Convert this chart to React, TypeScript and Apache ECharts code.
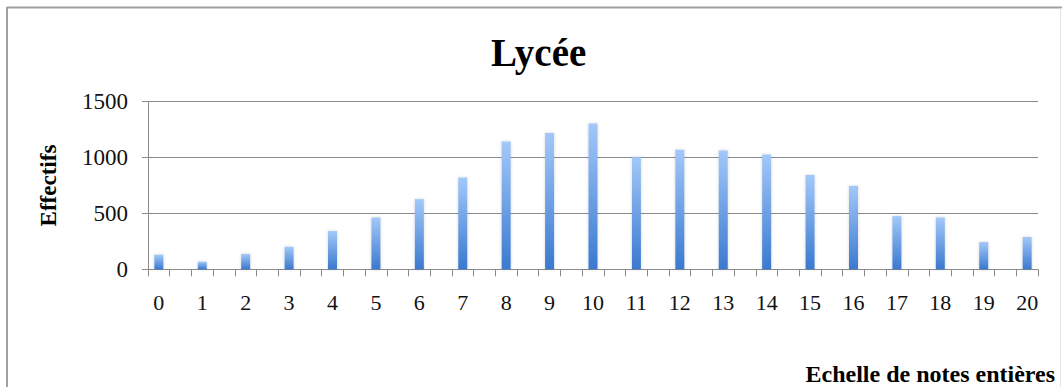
import React, { useEffect, useRef } from "react";
import * as echarts from "echarts";

// Integer grades (0 to 20) and the number of students for each grade
const notes: string[] = ["0", "1", "2", "3", "4", "5", "6", "7", "8", "9", "10", "11", "12", "13", "14", "15", "16", "17", "18", "19", "20"];
const effectifs: number[] = [131, 68, 137, 202, 342, 464, 628, 821, 1143, 1220, 1306, 1003, 1071, 1063, 1027, 845, 747, 476, 464, 244, 289];

const yTicks = { min: 0, max: 1500, interval: 500 };

const titleText = "Lycée";
const yName = "Effectifs";
const xName = "Echelle de notes entières";

const FONT = "'Liberation Serif', 'Times New Roman', serif";

export default function App() {
  const ref = useRef<HTMLDivElement>(null);

  useEffect(() => {
    if (!ref.current) return;
    const chart = echarts.init(ref.current, undefined, { renderer: "svg" });

    // The axis runs on half-grade steps; only whole grades carry a bar and a label
    const categories: string[] = [];
    const values: (number | null)[] = [];
    notes.forEach((n, i) => {
      categories.push(n);
      values.push(effectifs[i]);
      if (i < notes.length - 1) {
        categories.push(n + ",5");
        values.push(null);
      }
    });

    chart.setOption({
      animation: false,
      backgroundColor: "#ffffff",
      title: {
        text: titleText,
        left: 486,
        top: 28,
        textStyle: { fontFamily: FONT, fontSize: 39, fontWeight: "bold", color: "#000" },
      },
      grid: { left: 148, right: 24, top: 101.7, bottom: 117.7, containLabel: false },
      xAxis: {
        type: "category",
        data: categories,
        boundaryGap: true,
        axisLine: { show: true, lineStyle: { color: "#8a8a8a", width: 1 } },
        axisTick: { show: true, interval: 0, length: 7, lineStyle: { color: "#8a8a8a" } },
        axisLabel: {
          interval: 1,
          margin: 22,
          fontFamily: FONT,
          fontSize: 22,
          color: "#111",
        },
        splitLine: { show: false },
      },
      yAxis: {
        type: "value",
        min: yTicks.min,
        max: yTicks.max,
        interval: yTicks.interval,
        name: yName,
        nameLocation: "middle",
        nameGap: 88,
        nameRotate: 90,
        nameTextStyle: { fontFamily: FONT, fontSize: 23, fontWeight: "bold", color: "#000" },
        axisLine: { show: true, lineStyle: { color: "#8a8a8a", width: 1 } },
        axisTick: { show: true, length: 6, lineStyle: { color: "#8a8a8a" } },
        axisLabel: {
          margin: 20,
          fontFamily: FONT,
          fontSize: 23,
          color: "#111",
          formatter: (v: number) => String(v),
        },
        splitLine: { show: true, lineStyle: { color: "#8a8a8a", width: 1 } },
      },
      series: [
        {
          type: "bar",
          data: values,
          barWidth: 9,
          itemStyle: {
            color: new echarts.graphic.LinearGradient(0, 0, 0, 1, [
              { offset: 0, color: "#a3c8f9" },
              { offset: 1, color: "#3a79cf" },
            ]),
            shadowColor: "rgba(0,0,0,0.18)",
            shadowBlur: 3,
          },
        },
      ],
      graphic: [
        {
          type: "line",
          shape: { x1: 7, y1: 7.5, x2: 1062, y2: 7.5 },
          style: { stroke: "#a0a0a0", lineWidth: 2 },
        },
        {
          type: "line",
          shape: { x1: 7, y1: 7, x2: 7, y2: 387 },
          style: { stroke: "#a0a0a0", lineWidth: 2 },
        },
        {
          type: "line",
          shape: { x1: 1060.5, y1: 8, x2: 1060.5, y2: 387 },
          style: { stroke: "#e4e4e4", lineWidth: 1 },
        },
        {
          type: "text",
          right: 7,
          top: 362,
          style: {
            text: xName,
            fontFamily: FONT,
            fontSize: 24,
            fontWeight: "bold",
            fill: "#000",
          },
        },
      ],
    });

    return () => chart.dispose();
  }, []);

  return (
    <div
      ref={ref}
      style={{ position: "fixed", left: 0, top: 0, width: 1062, height: 387 }}
    />
  );
}
